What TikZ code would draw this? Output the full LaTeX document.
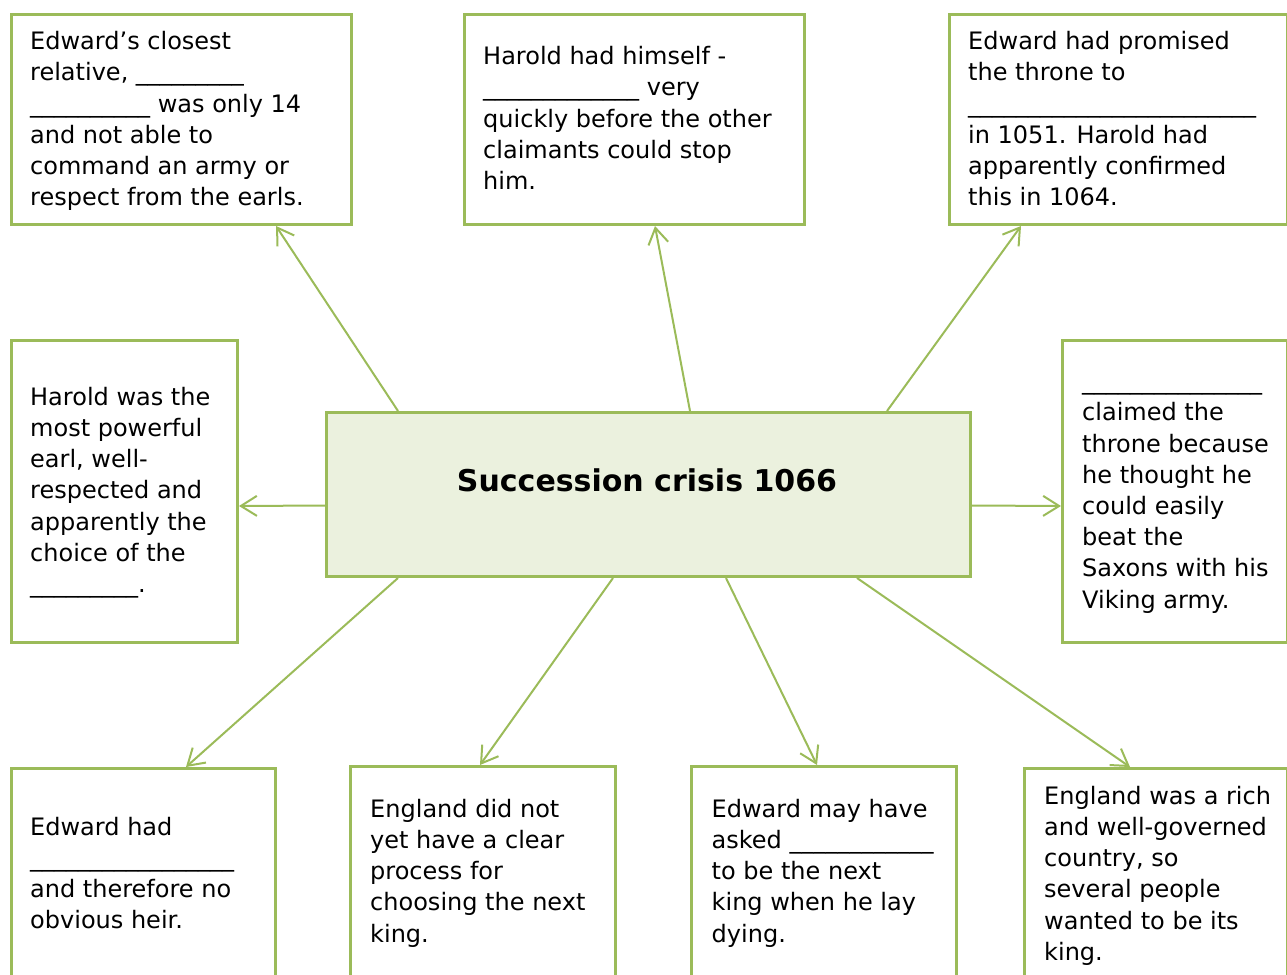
\documentclass[tikz,border=0pt]{standalone}
\usepackage{fontspec}
\setmainfont{DejaVu Sans}
\usetikzlibrary{arrows.meta}
\definecolor{gborder}{HTML}{9BBB59}
\definecolor{gfill}{HTML}{EBF1DE}
\tikzset{
  box/.style={draw=gborder, line width=3pt, inner sep=0pt, fill=white, anchor=north west},
  hub/.style={draw=gborder, line width=3pt, fill=gfill, inner sep=0pt, anchor=north west},
  conn/.style={draw=gborder, line width=2pt, -{Straight Barb[length=16pt,width=20pt]}},
  txt/.style={anchor=north west, inner sep=0pt, align=left, font=\fontsize{24pt}{31.2pt}\selectfont},
  ttl/.style={inner sep=0pt, font=\fontsize{30pt}{36pt}\selectfont\bfseries},
}
\newcommand{\fl}{\rule{0pt}{24pt}}
\begin{document}
\begin{tikzpicture}[x=1pt,y=-1pt]
\useasboundingbox (0,0) rectangle (1287,974);
\clip (0,0) rectangle (1287,974);
% boxes
\node[box, minimum width=340.5pt, minimum height=210pt] (b1) at (9.5,13) {};
\node[box, minimum width=340.5pt, minimum height=210pt] (b2) at (462.5,13) {};
\node[box, minimum width=338pt, minimum height=210pt] (b3) at (947.5,13) {};
\node[box, minimum width=226.5pt, minimum height=302pt] (b4) at (9.5,338.5) {};
\node[box, minimum width=224.5pt, minimum height=302pt] (b5) at (1061,338.5) {};
\node[hub, minimum width=644pt, minimum height=164pt] (c) at (325,411) {};
\node[box, minimum width=264.5pt, minimum height=240pt] (b6) at (9.5,767) {};
\node[box, minimum width=265pt, minimum height=240pt] (b7) at (348.5,765) {};
\node[box, minimum width=265pt, minimum height=240pt] (b8) at (690,765) {};
\node[box, minimum width=262.5pt, minimum height=240pt] (b9) at (1023,767) {};
% texts
\node[txt] (t1) at (30,25.5) {\fl Edward’s closest\\relative, \_\_\_\_\_\_\_\_\_\\\_\_\_\_\_\_\_\_\_\_ was only 14\\and not able to\\command an army or\\respect from the earls.};
\node[txt] (t2) at (483,40.5) {\fl Harold had himself -\\\_\_\_\_\_\_\_\_\_\_\_\_\_ very\\quickly before the other\\claimants could stop\\him.};
\node[txt] (t3) at (968,25.5) {\fl Edward had promised\\the throne to\\\_\_\_\_\_\_\_\_\_\_\_\_\_\_\_\_\_\_\_\_\_\_\_\_\\in 1051. Harold had\\apparently confirmed\\this in 1064.};
\node[txt] (t4) at (30,381) {\fl Harold was the\\most powerful\\earl, well-\\respected and\\apparently the\\choice of the\\\_\_\_\_\_\_\_\_\_.};
\node[txt] (t5) at (1082,365.5) {\fl \_\_\_\_\_\_\_\_\_\_\_\_\_\_\_\\claimed the\\throne because\\he thought he\\could easily\\beat the\\Saxons with his\\Viking army.};
\node[txt] (t6) at (30,811) {\fl Edward had\\\_\_\_\_\_\_\_\_\_\_\_\_\_\_\_\_\_\\and therefore no\\obvious heir.};
\node[txt] (t7) at (370,793) {\fl England did not\\yet have a clear\\process for\\choosing the next\\king.};
\node[txt] (t8) at (711.5,793) {\fl Edward may have\\asked \_\_\_\_\_\_\_\_\_\_\_\_\\to be the next\\king when he lay\\dying.};
\node[txt] (t9) at (1044,780) {\fl England was a rich\\and well-governed\\country, so\\several people\\wanted to be its\\king.};
\node[ttl] (title) at (647,480) {Succession crisis 1066};
% connectors
\draw[conn] ([xshift=73pt]c.north west) -- ([xshift=266.5pt]b1.south west);
\draw[conn] ([xshift=365pt]c.north west) -- ([xshift=192.5pt]b2.south west);
\draw[conn] ([xshift=562pt]c.north west) -- ([xshift=73.5pt]b3.south west);
\draw[conn] ([yshift=-11pt]c.west) -- ([yshift=-15pt]b4.east);
\draw[conn] ([yshift=-11pt]c.east) -- ([yshift=-15pt]b5.west);
\draw[conn] ([xshift=73pt]c.south west) -- ([xshift=176.5pt]b6.north west);
\draw[conn] ([xshift=288pt]c.south west) -- ([xshift=131.5pt]b7.north west);
\draw[conn] ([xshift=401pt]c.south west) -- ([xshift=127pt]b8.north west);
\draw[conn] ([xshift=532pt]c.south west) -- ([xshift=107pt]b9.north west);
\end{tikzpicture}
\end{document}
